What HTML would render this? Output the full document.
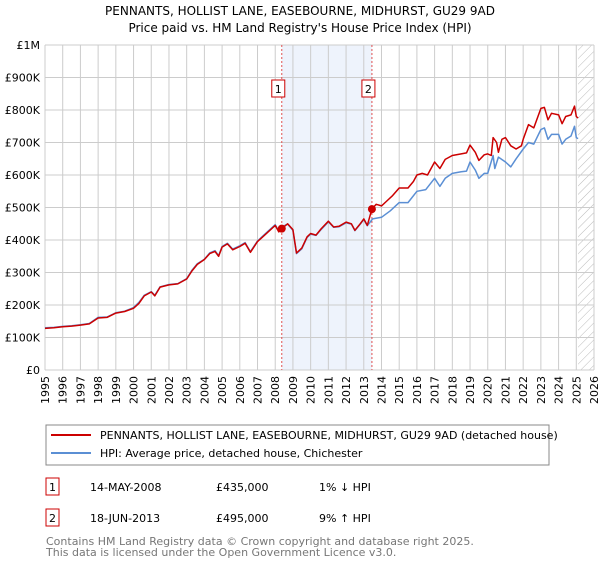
<!DOCTYPE html>
<html><head><meta charset="utf-8"><style>
body{margin:0;background:#fff;font-family:"Liberation Sans","DejaVu Sans",sans-serif;}
svg text{font-family:"DejaVu Sans","Liberation Sans",sans-serif;}
</style></head><body>
<svg id="chart" width="600" height="560">
<defs><pattern id="hatch" width="6" height="6" patternUnits="userSpaceOnUse" patternTransform="rotate(45)"><line x1="0" y1="0" x2="0" y2="6" stroke="#bbb" stroke-width="1"/></pattern></defs>
<text x="300" y="15" text-anchor="middle" font-size="12">PENNANTS, HOLLIST LANE, EASEBOURNE, MIDHURST, GU29 9AD</text>
<text x="300" y="32" text-anchor="middle" font-size="12">Price paid vs. HM Land Registry's House Price Index (HPI)</text>
<g id="grid"></g><g id="marks"></g>
<rect x="46" y="425" width="503" height="40" fill="#fff" stroke="#888"/>
<line x1="51" y1="435" x2="91" y2="435" stroke="#cc0000" stroke-width="2"/>
<text x="100" y="439" font-size="11">PENNANTS, HOLLIST LANE, EASEBOURNE, MIDHURST, GU29 9AD (detached house)</text>
<line x1="51" y1="453" x2="91" y2="453" stroke="#5b8fd4" stroke-width="2"/>
<text x="100" y="457" font-size="11">HPI: Average price, detached house, Chichester</text>
<g font-size="11">
<rect x="46" y="478" width="13" height="17" fill="#fff" stroke="#cc0000"/><text x="52.5" y="491" text-anchor="middle">1</text>
<text x="90" y="491">14-MAY-2008</text>
<text x="216" y="491">£435,000</text>
<text x="319" y="491">1% ↓ HPI</text>
<rect x="46" y="509" width="13" height="17" fill="#fff" stroke="#cc0000"/><text x="52.5" y="522" text-anchor="middle">2</text>
<text x="90" y="522">18-JUN-2013</text>
<text x="216" y="522">£495,000</text>
<text x="319" y="522">9% ↑ HPI</text>
</g>
<text x="46" y="545" font-size="11" fill="#777">Contains HM Land Registry data © Crown copyright and database right 2025.</text>
<text x="46" y="556" font-size="11" fill="#777">This data is licensed under the Open Government Licence v3.0.</text>
</svg>
<script>
const yearTicks=[1995,1996,1997,1998,1999,2000,2001,2002,2003,2004,2005,2006,2007,2008,2009,2010,2011,2012,2013,2014,2015,2016,2017,2018,2019,2020,2021,2022,2023,2024,2025,2026];
const valueTicks=[0,100,200,300,400,500,600,700,800,900,1000];
const valueLabels=["£0","£100K","£200K","£300K","£400K","£500K","£600K","£700K","£800K","£900K","£1M"];
const propYears=[1995,1995.5,1996,1996.5,1997,1997.5,1998,1998.5,1999,1999.5,2000,2000.3,2000.6,2001,2001.2,2001.5,2002,2002.5,2003,2003.3,2003.6,2004,2004.3,2004.6,2004.8,2005,2005.3,2005.6,2006,2006.3,2006.6,2007,2007.3,2007.6,2008,2008.2,2008.37,2008.7,2009,2009.2,2009.5,2009.8,2010,2010.3,2010.6,2011,2011.3,2011.6,2012,2012.3,2012.5,2012.8,2013,2013.2,2013.46,2013.7,2014,2014.3,2014.6,2015,2015.5,2015.8,2016,2016.3,2016.6,2017,2017.3,2017.6,2018,2018.5,2018.8,2019,2019.3,2019.5,2019.8,2020,2020.2,2020.3,2020.5,2020.6,2020.8,2021,2021.3,2021.6,2021.9,2022,2022.3,2022.6,2023,2023.2,2023.4,2023.6,2024,2024.2,2024.4,2024.7,2024.9,2025,2025.1];
const propValues=[128,130,133,135,138,142,160,162,175,180,190,205,228,240,228,255,262,265,280,305,325,340,358,365,350,378,388,370,380,390,362,395,410,425,445,425,435,450,432,360,375,410,420,415,435,458,440,442,455,450,430,450,465,445,495,510,505,520,535,560,560,580,600,605,600,640,620,648,660,665,668,692,670,645,662,665,660,715,700,670,710,715,690,680,690,710,755,745,805,808,770,790,785,758,780,785,812,780,775];
const hpiYears=[1995,1995.5,1996,1996.5,1997,1997.5,1998,1998.5,1999,1999.5,2000,2000.3,2000.6,2001,2001.2,2001.5,2002,2002.5,2003,2003.3,2003.6,2004,2004.3,2004.6,2004.8,2005,2005.3,2005.6,2006,2006.3,2006.6,2007,2007.3,2007.6,2008,2008.2,2008.37,2008.7,2009,2009.2,2009.5,2009.8,2010,2010.3,2010.6,2011,2011.3,2011.6,2012,2012.3,2012.5,2012.8,2013,2013.2,2013.5,2014,2014.5,2015,2015.5,2016,2016.5,2017,2017.3,2017.6,2018,2018.5,2018.8,2019,2019.3,2019.5,2019.8,2020,2020.3,2020.4,2020.6,2021,2021.3,2021.6,2022,2022.3,2022.6,2023,2023.2,2023.4,2023.6,2024,2024.2,2024.4,2024.7,2024.9,2025,2025.1];
const hpiValues=[130,131,134,136,139,143,162,163,176,181,192,208,230,241,230,256,263,266,281,307,327,341,360,367,352,380,390,372,382,392,364,397,412,427,447,428,440,449,430,358,373,408,418,414,433,456,439,441,453,449,429,449,463,444,465,470,490,515,515,550,555,590,565,590,605,610,612,640,615,590,605,605,660,620,655,640,625,650,680,700,695,740,745,710,725,725,695,710,720,750,715,712];
const sales=[{x:2008.37,v:435},{x:2013.46,v:495}];
const X=y=>45+(y-1995)*(594-45)/31, Y=v=>370-v*0.325;
const NS="http://www.w3.org/2000/svg";
function mk(p,t,a){const e=document.createElementNS(NS,t);for(const k in a)e.setAttribute(k,a[k]);p.appendChild(e);return e;}
const g=document.getElementById('grid'), m=document.getElementById('marks');
const sh=mk(g,'rect',{x:X(sales[0].x),y:Y(1000),width:X(sales[1].x)-X(sales[0].x),height:Y(0)-Y(1000),fill:'#eef3fc'});


const ht=mk(g,'rect',{x:X(2025.1),y:Y(1000),width:594-X(2025.1),height:Y(0)-Y(1000),fill:'url(#hatch)'});


yearTicks.forEach(t=>{
 const l=mk(g,'line',{x1:X(t),x2:X(t),y1:Y(1000),y2:Y(0),stroke:'#ccc'});
 
 
 const tx=mk(g,'text',{x:0,y:0,'text-anchor':'end','font-size':11,transform:'translate('+(X(t)+4)+',376) rotate(-90)'});
 tx.textContent=t;
 
 
});
valueTicks.forEach((v,i)=>{
 const l=mk(g,'line',{x1:45,x2:594,y1:Y(v),y2:Y(v),stroke:'#ccc'});
 
 
 const tx=mk(g,'text',{x:40,y:Y(v)+4,'text-anchor':'end','font-size':11});
 tx.textContent=valueLabels[i];
 
 
});
sales.forEach((s,i)=>{
 const l=mk(m,'line',{x1:X(s.x),x2:X(s.x),y1:Y(1000),y2:Y(0),stroke:'#e05050','stroke-dasharray':'2,2'});
 
 
});
function path(xs,vs,c,name){
 const p=mk(m,'path',{d:xs.map((x,i)=>(i?'L':'M')+X(x).toFixed(1)+','+Y(vs[i]).toFixed(1)).join(''),fill:'none',stroke:c,'stroke-width':1.5,'stroke-linejoin':'round'});
 
 
}
path(hpiYears,hpiValues,'#5b8fd4','hpi-line');
path(propYears,propValues,'#cc0000','property-line');
sales.forEach((s,i)=>{
 const c=mk(m,'circle',{cx:X(s.x),cy:Y(s.v),r:4,fill:'#cc0000'});
 
 
 const b=mk(m,'rect',{x:X(s.x)-10,y:80,width:13,height:17,fill:'#fff',stroke:'#cc0000'});
 
 
 const t=mk(m,'text',{x:X(s.x)-3.5,y:93,'text-anchor':'middle','font-size':11});
 t.textContent=i+1;
 
 
});
</script>
</body></html>
